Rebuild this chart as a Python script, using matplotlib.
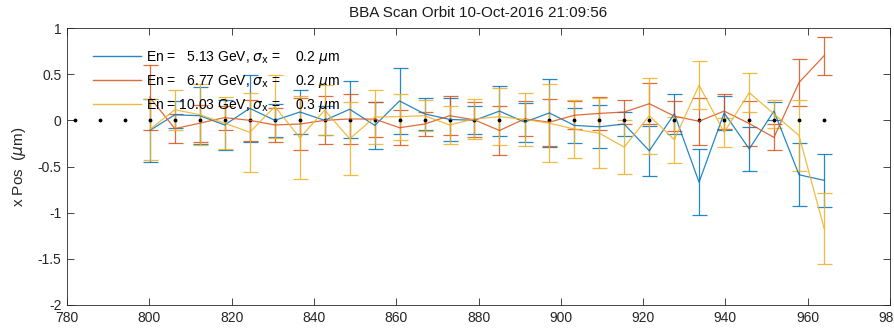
import matplotlib
matplotlib.use("Agg")
import matplotlib.pyplot as plt
from matplotlib.lines import Line2D

plt.rcParams['font.family'] = ['Liberation Sans', 'DejaVu Sans']
plt.rcParams['mathtext.fontset'] = 'dejavusans'

# BPM positions (all 31) and reference orbit (black dots)
bpm_x = [781.9, 788.0, 794.1, 800.1, 806.2, 812.3, 818.3, 824.4, 830.5, 836.6,
         842.6, 848.7, 854.8, 860.8, 866.9, 873.0, 879.0, 885.1, 891.2, 897.2,
         903.3, 909.4, 915.4, 921.5, 927.6, 933.6, 939.7, 945.8, 951.8, 957.9, 964.0]
ref_y = [0.0] * 31

# measured BPMs (from 800 on)
meas_x = bpm_x[3:]

labels = [r'En =   5.13 GeV, $\sigma_{\rm x}$ =    0.2 $\mu$m',
          r'En =   6.77 GeV, $\sigma_{\rm x}$ =    0.2 $\mu$m',
          r'En = 10.03 GeV, $\sigma_{\rm x}$ =    0.3 $\mu$m']

blue_y = [-0.11, 0.06, 0.05, -0.05, 0.13, 0.0, 0.09, 0.0, 0.12, -0.055, 0.21, 0.07, 0.01, 0.0,
          0.10, -0.02, 0.08, -0.055, -0.07, -0.04, -0.33, 0.07, -0.67, 0.08, -0.31, 0.10, -0.59, -0.65]
blue_e = [0.34, 0.145, 0.31, 0.27, 0.36, 0.18, 0.24, 0.16, 0.31, 0.255, 0.355, 0.17, 0.235, 0.15,
          0.27, 0.21, 0.37, 0.19, 0.235, 0.13, 0.27, 0.22, 0.36, 0.18, 0.235, 0.10, 0.34, 0.29]

red_y = [0.25, -0.09, -0.03, 0.03, 0.0, -0.05, -0.04, 0.0, 0.015, 0.013, -0.08, -0.04, 0.05, 0.005,
         -0.11, 0.015, -0.02, 0.055, 0.075, 0.09, 0.18, 0.045, -0.01, 0.10, -0.035, -0.185, 0.41, 0.70]
red_e = [0.35, 0.16, 0.2, 0.13, 0.22, 0.18, 0.28, 0.26, 0.27, 0.19, 0.19, 0.125, 0.21, 0.19,
         0.27, 0.19, 0.255, 0.15, 0.18, 0.13, 0.22, 0.165, 0.255, 0.19, 0.245, 0.14, 0.255, 0.205]

yel_y = [-0.10, 0.115, 0.06, -0.03, -0.13, 0.15, -0.19, 0.11, -0.20, 0.035, 0.04, 0.05, -0.05, 0.015,
         0.04, 0.01, -0.03, -0.095, -0.14, -0.29, 0.05, -0.21, 0.38, -0.13, 0.30, 0.07, -0.165, -1.17]
yel_e = [0.33, 0.215, 0.33, 0.28, 0.43, 0.34, 0.45, 0.27, 0.395, 0.29, 0.25, 0.17, 0.21, 0.215,
         0.31, 0.29, 0.425, 0.31, 0.38, 0.295, 0.41, 0.25, 0.26, 0.16, 0.215, 0.15, 0.38, 0.385]

colors = ['#0072BD', '#D95319', '#EDB120']
series = [(blue_y, blue_e), (red_y, red_e), (yel_y, yel_e)]

fig = plt.figure(figsize=(8.94, 3.33), dpi=100)
ax = fig.add_axes([0.075, 0.0841, 0.9205, 0.8318])

for (yv, ev), c in zip(series, colors):
    ax.errorbar(meas_x, yv, yerr=ev, color=c, lw=0.9, elinewidth=0.9,
                capsize=5.4, capthick=0.9, alpha=0.85)

ax.plot(bpm_x, ref_y, 'k.', ms=3.5, ls='none')

ax.set_xlim(780, 980)
ax.set_ylim(-2, 1)
ax.set_xticks(range(780, 981, 20))
ax.set_yticks([-2, -1.5, -1, -0.5, 0, 0.5, 1])
ax.set_yticklabels(['-2', '-1.5', '-1', '-0.5', '0', '0.5', '1'])
ax.tick_params(direction='in', top=True, right=True, length=5, width=0.6,
               labelsize=10, colors='#262626', pad=4)
for s in ax.spines.values():
    s.set_linewidth(0.6)
    s.set_color('#262626')

ax.set_title('BBA Scan Orbit 10-Oct-2016 21:09:56', fontsize=11, color='#1a1a1a', pad=8)
ax.set_ylabel(r'x Pos  ($\mu$m)', fontsize=11, color='#262626', labelpad=7)

handles = [Line2D([0], [0], color=c, lw=1.0, alpha=0.85) for c in colors]
ax.legend(handles, labels, loc='upper left', bbox_to_anchor=(0.031, 0.925),
          frameon=False, fontsize=10, handlelength=3.5, handletextpad=0.35,
          labelspacing=0.5, borderpad=0, borderaxespad=0)

fig.savefig('out.png', dpi=100)
